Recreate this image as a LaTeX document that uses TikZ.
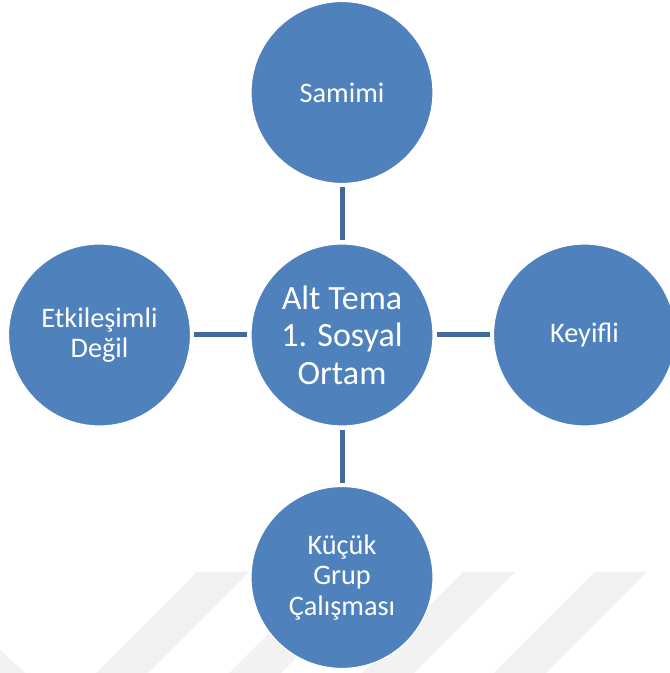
\documentclass[tikz,border=0pt]{standalone}
\usepackage{fontspec}
\setmainfont{Carlito}
\definecolor{bubble}{HTML}{4F81BD}
\definecolor{link}{HTML}{41699C}
\definecolor{stripe}{HTML}{F2F2F2}
\begin{document}
\begin{tikzpicture}[x=1pt,y=1pt,
  bubble/.style={circle, fill=bubble, draw=white, line width=1.2pt,
    minimum size=182pt, inner sep=0pt, text=white, align=center},
  hub/.style={bubble, font=\fontsize{34}{37.5}\selectfont},
  leaf/.style={bubble, font=\fontsize{28.3}{30.5}\selectfont},
  link/.style={draw=link, line width=5pt, shorten >=3pt, shorten <=3pt}]
\clip (0,0) rectangle (670,673);
\fill[white] (0,0) rectangle (670,673);

% faint diagonal stripes along the bottom edge
\foreach \x in {197,330,463,595}
  \fill[stripe] (\x,101) -- ++(52,0) -- ++(-101,-101) -- ++(-52,0) -- cycle;
\fill[stripe] (0,23) -- (25,0) -- (0,0) -- cycle;

% nodes
\node[hub]  (hub)    at (342,338)   {Alt Tema\\1. Sosyal\\Ortam};
\node[leaf] (top)    at (342,580.5) {Samimi};
\node[leaf] (bottom) at (342,95.5)  {Küçük\\Grup\\Çalışması};
\node[leaf] (left)   at (99.5,338)  {Etkileşimli\\Değil};
\node[leaf] (right)  at (584.5,338) {Keyifli};

% connectors
\draw[link] (top) -- (hub);
\draw[link] (hub) -- (bottom);
\draw[link] (left) -- (hub);
\draw[link] (hub) -- (right);
\end{tikzpicture}
\end{document}
